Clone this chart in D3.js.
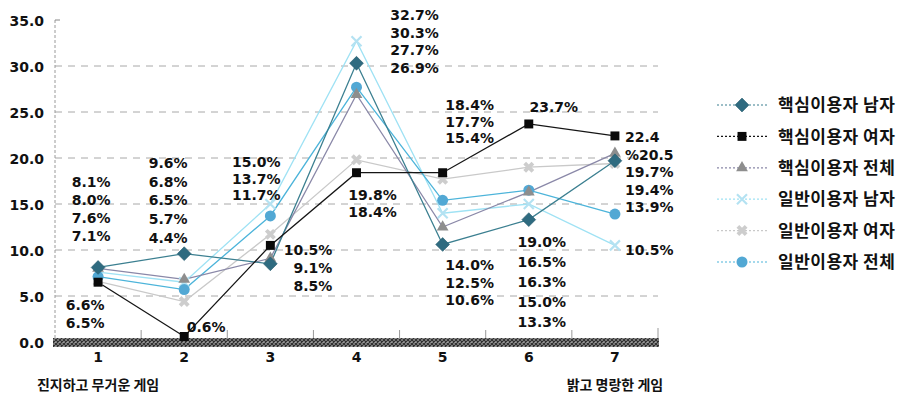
<!DOCTYPE html>
<html>
<head>
<meta charset="utf-8">
<script src="https://cdn.jsdelivr.net/npm/d3@7/dist/d3.min.js"></script>
<style>
  html, body { margin: 0; padding: 0; background: #fff; }
  svg { display: block; }
  .num { font-family: "DejaVu Sans", "Liberation Sans", sans-serif; font-weight: bold; font-size: 14px; fill: #111; }
  .kr { font-family: "Noto Sans CJK KR", "Noto Sans", sans-serif; font-weight: bold; fill: #111; }
</style>
</head>
<body>
<svg id="chart" width="907" height="402"></svg>
<script>
// Categories on the x axis (1 = serious/heavy ... 7 = bright/cheerful)
const categories = ["1", "2", "3", "4", "5", "6", "7"];
const yTicks = [0, 5, 10, 15, 20, 25, 30, 35];
const leftEndLabel = "진지하고 무거운 게임";
const rightEndLabel = "밝고 명랑한 게임";

const seriesNames = [
  "핵심이용자 남자", "핵심이용자 여자", "핵심이용자 전체",
  "일반이용자 남자", "일반이용자 여자", "일반이용자 전체"
];

// Percentages per category for each group
const coreMale   = [8.1, 9.6, 8.5, 30.3, 10.6, 13.3, 19.7];
const coreFemale = [6.5, 0.6, 10.5, 18.4, 18.4, 23.7, 22.4];
const coreAll    = [8.0, 6.8, 9.1, 26.9, 12.5, 16.3, 20.5];
const genMale    = [7.6, 6.5, 15.0, 32.7, 14.0, 15.0, 10.5];
const genFemale  = [6.6, 4.4, 11.7, 19.8, 17.7, 19.0, 19.4];
const genAll     = [7.1, 5.7, 13.7, 27.7, 15.4, 16.5, 13.9];

const seriesValues = [coreMale, coreFemale, coreAll, genMale, genFemale, genAll];

// Visual style per series (same order as seriesNames)
const styles = [
  { line: "#3b7f90", fill: "#2f6b80", marker: "diamond" },
  { line: "#151515", fill: "#0a0a0a", marker: "square" },
  { line: "#8a88a8", fill: "#8e8e8e", marker: "triangle" },
  { line: "#9fe2f4", fill: "#b4e2f2", marker: "x" },
  { line: "#c9c9c9", fill: "#cdcdcd", marker: "star" },
  { line: "#4cb4da", fill: "#52a8d4", marker: "circle" }
];

// Value-label stacks: series index order, anchor offset from category centre, first line y, line step
const labelStacks = [
  { cat: 0, series: [0, 2, 3, 5], dx: -7,  y: 182, step: 18,   anchor: "middle" },
  { cat: 0, series: [4, 1],       dx: -13, y: 305, step: 17.5, anchor: "middle" },
  { cat: 1, series: [0, 2, 3, 5, 4], dx: -16, y: 163, step: 18.7, anchor: "middle" },
  { cat: 1, series: [1],          dx: 22,  y: 327, step: 0,    anchor: "middle" },
  { cat: 2, series: [3, 5, 4],    dx: -14, y: 162, step: 16.5, anchor: "middle" },
  { cat: 2, series: [1, 2, 0],    dx: 62,  y: 250, step: 18,   anchor: "end" },
  { cat: 3, series: [3, 0, 5, 2], dx: 58,  y: 15,  step: 17.5, anchor: "middle" },
  { cat: 3, series: [4, 1],       dx: 16,  y: 195, step: 17,   anchor: "middle" },
  { cat: 4, series: [1, 4, 5],    dx: 27,  y: 105, step: 16.5, anchor: "middle" },
  { cat: 4, series: [3, 2, 0],    dx: 27,  y: 265, step: 17.5, anchor: "middle" },
  { cat: 5, series: [1],          dx: 25,  y: 107, step: 0,    anchor: "middle" },
  { cat: 5, series: [4, 5, 2, 3, 0], dx: 13, y: 242, step: 20, anchor: "middle" },
  { cat: 6, series: [1, 2, 0, 4, 5], dx: 10, y: 137, step: 17.5, anchor: "start",
    formats: ["{v}", "%{v}", "{v}%", "{v}%", "{v}%"] },
  { cat: 6, series: [3],          dx: 10,  y: 250, step: 0,    anchor: "start" }
];

const svg = d3.select("#chart");
const plot = { left: 55, right: 658, top: 20, bottom: 342 };

const x = d3.scaleBand().domain(categories).range([plot.left, plot.right]).padding(0);
const y = d3.scaleLinear().domain([0, 35]).range([plot.bottom, plot.top]);
const cx = c => x(c) + x.bandwidth() / 2;

// Hatched baseline pattern
const defs = svg.append("defs");
const pat = defs.append("pattern").attr("id", "hatch").attr("width", 4).attr("height", 4)
  .attr("patternUnits", "userSpaceOnUse");
pat.append("rect").attr("width", 4).attr("height", 4).attr("fill", "#9a9a9a");
pat.append("path").attr("d", "M0,0 L4,4 M4,0 L0,4").attr("stroke", "#2e2e2e").attr("stroke-width", 1.2);

// Horizontal dashed gridlines
svg.append("g").selectAll("line").data(yTicks.filter(t => t > 0 && t < 35)).join("line")
  .attr("x1", plot.left).attr("x2", plot.right)
  .attr("y1", d => y(d)).attr("y2", d => y(d))
  .attr("stroke", "#a8a8a8").attr("stroke-width", 1).attr("stroke-dasharray", "7,6");

// Y axis line and top tick
svg.append("line").attr("x1", plot.left).attr("x2", plot.left)
  .attr("y1", y(35)).attr("y2", plot.bottom)
  .attr("stroke", "#9a9a9a").attr("stroke-width", 1).attr("stroke-dasharray", "3,2");
svg.append("line").attr("x1", plot.left).attr("x2", plot.left + 5)
  .attr("y1", y(35)).attr("y2", y(35)).attr("stroke", "#888").attr("stroke-width", 1);

// Y tick labels via axis generator
const yAxis = svg.append("g").attr("transform", `translate(${plot.left - 8},0)`)
  .call(d3.axisLeft(y).tickValues(yTicks).tickFormat(d3.format(".1f")).tickSize(0));
yAxis.select(".domain").remove();
yAxis.selectAll("text").attr("class", "num").attr("font-size", null).attr("font-family", null)
  .attr("dy", "0.36em").style("font-size", "14px");

// Category boundary ticks
svg.append("g").selectAll("line").data(categories).join("line")
  .attr("x1", d => x(d) + x.bandwidth()).attr("x2", d => x(d) + x.bandwidth())
  .attr("y1", (d, i) => i === categories.length - 1 ? plot.bottom - 14 : plot.bottom - 12)
  .attr("y2", plot.bottom - 2)
  .attr("stroke", "#999").attr("stroke-width", 1);

// Hatched base band
svg.append("rect").attr("x", plot.left - 2).attr("y", plot.bottom - 4)
  .attr("width", plot.right - plot.left + 3).attr("height", 9)
  .attr("fill", "url(#hatch)");

// X tick labels via axis generator
const xAxis = svg.append("g").attr("transform", `translate(0,${plot.bottom + 6})`)
  .call(d3.axisBottom(x).tickSize(0).tickPadding(4));
xAxis.select(".domain").remove();
xAxis.selectAll("text").attr("class", "num").attr("font-size", null).attr("font-family", null)
  .style("font-size", "14px");

svg.append("text").attr("class", "kr").attr("x", cx("1")).attr("y", 390)
  .attr("text-anchor", "middle").style("font-size", "14px").text(leftEndLabel);
svg.append("text").attr("class", "kr").attr("x", cx("7")).attr("y", 390)
  .attr("text-anchor", "middle").style("font-size", "14px").text(rightEndLabel);

// Marker drawing
function drawMarker(g, type, fill, stroke) {
  switch (type) {
    case "diamond":
      g.append("path").attr("d", d3.symbol(d3.symbolSquare, 95)())
        .attr("transform", "rotate(45)").attr("fill", fill).attr("stroke", d3.color(fill).darker(0.4)).attr("stroke-width", 0.6);
      break;
    case "square":
      g.append("path").attr("d", d3.symbol(d3.symbolSquare, 80)()).attr("fill", fill);
      break;
    case "triangle":
      g.append("path").attr("d", d3.symbol(d3.symbolTriangle, 60)()).attr("fill", fill);
      break;
    case "x":
      g.append("path").attr("d", "M-5,-5L5,5M-5,5L5,-5").attr("stroke", fill).attr("stroke-width", 2.2).attr("fill", "none");
      break;
    case "star":
      g.append("path").attr("d", d3.symbol(d3.symbolCross, 75)()).attr("transform", "rotate(45)").attr("fill", fill);
      break;
    case "circle":
      g.append("circle").attr("r", 5.5).attr("fill", fill);
      break;
  }
}

// Lines (lighter series first so the dark ones sit on top)
const drawOrder = [4, 3, 5, 2, 0, 1];
const lineGen = d3.line().x((d, i) => cx(categories[i])).y(d => y(d));
const linesG = svg.append("g");
drawOrder.forEach(si => {
  linesG.append("path").datum(seriesValues[si])
    .attr("d", lineGen).attr("fill", "none")
    .attr("stroke", styles[si].line).attr("stroke-width", 1.3);
});

// Markers
const marksG = svg.append("g");
drawOrder.forEach(si => {
  seriesValues[si].forEach((v, i) => {
    const g = marksG.append("g").attr("transform", `translate(${cx(categories[i])},${y(v)})`);
    drawMarker(g, styles[si].marker, styles[si].fill);
  });
});

// Value labels
const labelsG = svg.append("g");
labelStacks.forEach(st => {
  st.series.forEach((si, k) => {
    const v = seriesValues[si][st.cat];
    const fmt = st.formats ? st.formats[k] : "{v}%";
    labelsG.append("text").attr("class", "num")
      .attr("x", cx(categories[st.cat]) + st.dx)
      .attr("y", st.y + k * st.step)
      .attr("dy", "0.36em")
      .attr("text-anchor", st.anchor)
      .text(fmt.replace("{v}", v.toFixed(1)));
  });
});

// Legend
const legend = svg.append("g");
seriesNames.forEach((name, i) => {
  const ly = 105 + i * 31.4;
  legend.append("line").attr("x1", 717).attr("x2", 767).attr("y1", ly).attr("y2", ly)
    .attr("stroke", styles[i].line).attr("stroke-width", 1.2).attr("stroke-dasharray", "2,2");
  const g = legend.append("g").attr("transform", `translate(742,${ly})`);
  drawMarker(g, styles[i].marker, styles[i].fill);
  legend.append("text").attr("class", "kr").attr("x", 778).attr("y", ly).attr("dy", "0.36em")
    .style("font-size", "17px").style("letter-spacing", "0.5px").text(name);
});
</script>
</body>
</html>
